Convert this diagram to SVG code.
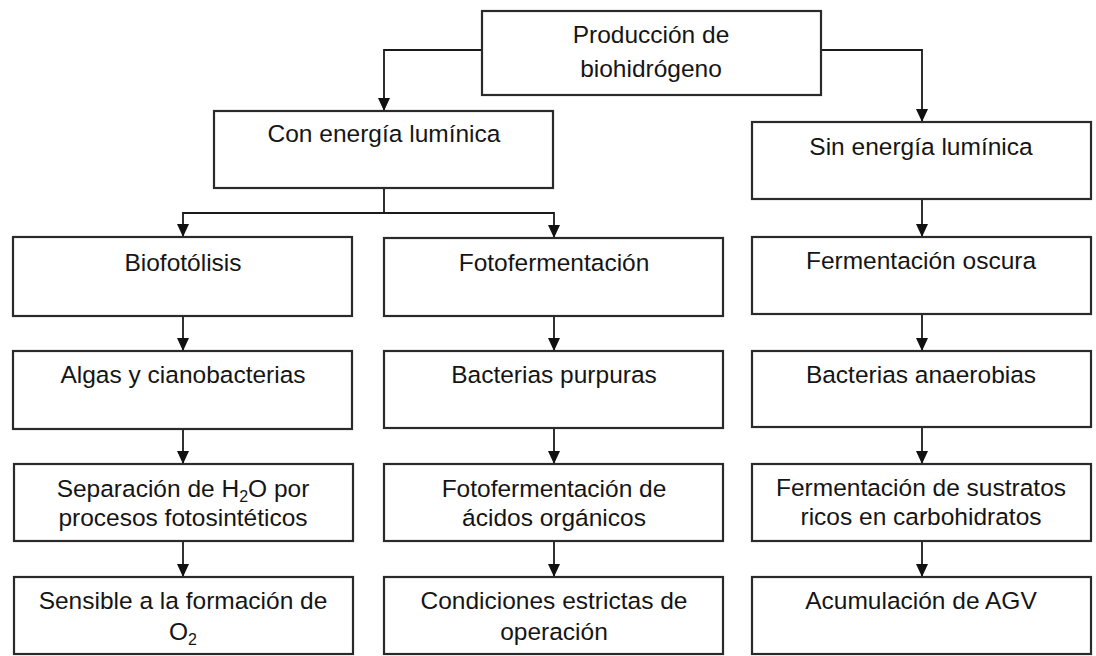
<svg xmlns="http://www.w3.org/2000/svg" width="1096" height="656" viewBox="0 0 1096 656">
<defs>
<marker id="ah" markerUnits="userSpaceOnUse" markerWidth="13" markerHeight="12" refX="13" refY="6" orient="auto">
<path d="M0,0 L13,6 L0,12 z" fill="#111"/>
</marker>
<style>
.box{fill:#fff;stroke:#2a2a2a;stroke-width:2.2}
.t{font-family:"Liberation Sans",Arial,sans-serif;font-size:24.5px;fill:#151515;text-anchor:middle}
.c{fill:none;stroke:#1a1a1a;stroke-width:1.8}
.a{marker-end:url(#ah)}
.sub{font-size:16px}
</style>
</defs>
<rect width="1096" height="656" fill="#fff"/>
<g id="connectors">
<polyline class="c a" points="482,50 384,50 384,111"/>
<polyline class="c a" points="821,50 922,50 922,122"/>
<polyline class="c a" points="384,188 384,213 183,213 183,237"/>
<polyline class="c a" points="384,213 554,213 554,238"/>
<line class="c a" x1="922" y1="199" x2="922" y2="237"/>
<line class="c a" x1="183" y1="316" x2="183" y2="351"/>
<line class="c a" x1="183" y1="429" x2="183" y2="464"/>
<line class="c a" x1="183" y1="541" x2="183" y2="577"/>
<line class="c a" x1="554" y1="316" x2="554" y2="351"/>
<line class="c a" x1="554" y1="428" x2="554" y2="464"/>
<line class="c a" x1="554" y1="541" x2="554" y2="577"/>
<line class="c a" x1="922" y1="314" x2="922" y2="351"/>
<line class="c a" x1="922" y1="427" x2="922" y2="464"/>
<line class="c a" x1="922" y1="541" x2="922" y2="577"/>
</g>
<g id="n-produccion">
<rect class="box" x="482" y="11" width="339" height="84"/>
<text class="t" x="651" y="43">Producción de</text>
<text class="t" x="651" y="77">biohidrógeno</text>
</g>
<g id="n-con">
<rect class="box" x="214" y="111" width="339" height="77"/>
<text class="t" x="384" y="142">Con energía lumínica</text>
</g>
<g id="n-sin">
<rect class="box" x="752" y="122" width="339" height="77"/>
<text class="t" x="921" y="155">Sin energía lumínica</text>
</g>
<g id="n-biofotolisis">
<rect class="box" x="13" y="237" width="339" height="79"/>
<text class="t" x="183" y="271">Biofotólisis</text>
</g>
<g id="n-fotofermentacion">
<rect class="box" x="384" y="238" width="339" height="78"/>
<text class="t" x="554" y="271">Fotofermentación</text>
</g>
<g id="n-oscura">
<rect class="box" x="752" y="237" width="339" height="77"/>
<text class="t" x="921" y="269">Fermentación oscura</text>
</g>
<g id="n-algas">
<rect class="box" x="13" y="351" width="339" height="78"/>
<text class="t" x="183" y="383">Algas y cianobacterias</text>
</g>
<g id="n-purpuras">
<rect class="box" x="384" y="351" width="339" height="77"/>
<text class="t" x="554" y="383">Bacterias purpuras</text>
</g>
<g id="n-anaerobias">
<rect class="box" x="752" y="351" width="339" height="76"/>
<text class="t" x="921" y="383">Bacterias anaerobias</text>
</g>
<g id="n-separacion">
<rect class="box" x="14" y="464" width="339" height="77"/>
<text class="t" x="183" y="497">Separación de H<tspan class="sub" dy="5">2</tspan><tspan dy="-5">O por</tspan></text>
<text class="t" x="183" y="526">procesos fotosintéticos</text>
</g>
<g id="n-acidos">
<rect class="box" x="384" y="464" width="339" height="77"/>
<text class="t" x="554" y="497">Fotofermentación de</text>
<text class="t" x="554" y="526">ácidos orgánicos</text>
</g>
<g id="n-sustratos">
<rect class="box" x="752" y="464" width="339" height="77"/>
<text class="t" x="921" y="496">Fermentación de sustratos</text>
<text class="t" x="921" y="525">ricos en carbohidratos</text>
</g>
<g id="n-sensible">
<rect class="box" x="14" y="577" width="339" height="77"/>
<text class="t" x="183" y="609">Sensible a la formación de</text>
<text class="t" x="183" y="640">O<tspan class="sub" dy="5">2</tspan></text>
</g>
<g id="n-condiciones">
<rect class="box" x="384" y="577" width="339" height="77"/>
<text class="t" x="554" y="609">Condiciones estrictas de</text>
<text class="t" x="554" y="640">operación</text>
</g>
<g id="n-agv">
<rect class="box" x="752" y="577" width="339" height="77"/>
<text class="t" x="921" y="609">Acumulación de AGV</text>
</g>
</svg>
